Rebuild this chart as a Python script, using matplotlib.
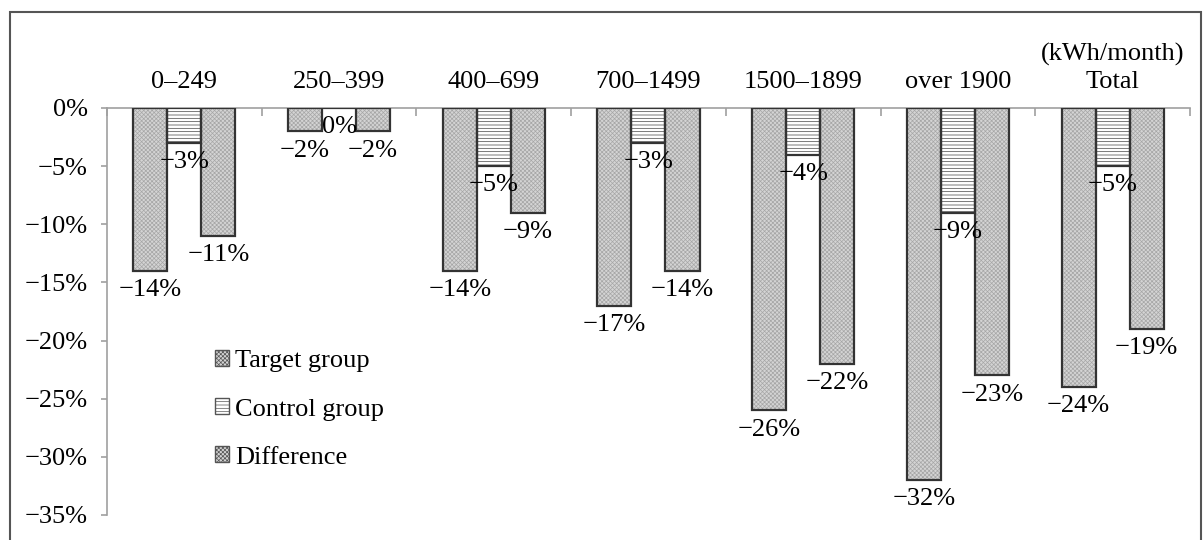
import numpy as np
import matplotlib
matplotlib.use('Agg')
import matplotlib.pyplot as plt
from matplotlib.patches import Patch, Rectangle

# chart values (percent change in consumption)
categories = ['0–249', '250–399', '400–699', '700–1499', '1500–1899', 'over 1900', '(kWh/month)\nTotal']
target = [-14, -2, -14, -17, -26, -32, -24]
control = [-3, 0, -5, -3, -4, -9, -5]
difference = [-11, -2, -9, -14, -22, -23, -19]
yticks = [0, -5, -10, -15, -20, -25, -30, -35]

plt.rcParams['font.family'] = ['Liberation Serif', 'DejaVu Serif']
plt.rcParams['font.size'] = 19
plt.rcParams['hatch.linewidth'] = 0.5

fig = plt.figure(figsize=(12.03, 5.4), dpi=100)
ax = fig.add_axes([0.0889, 0.0463, 0.9003, 0.7537])

# outer frame around the whole chart
fig.patches.append(Rectangle((10 / 1203, -0.1), 1191 / 1203, 1.1 - 12 / 540,
                             transform=fig.transFigure, fill=False,
                             edgecolor='#555555', lw=1.5))

x = np.arange(len(categories)) + 0.5
w = 0.22
series = [
    (target, -w, '#d4d4d4', '#a6a6a6', 'xxxxxxxx', 'Target group'),
    (control, 0, 'white', '#444444', '-----', 'Control group'),
    (difference, w, '#d4d4d4', '#a6a6a6', 'xxxxxxxx', 'Difference'),
]

handles = []
for vals, off, fc, hc, hatch, name in series:
    # fill with texture, then dark outline on top
    ax.bar(x + off, vals, w, color=fc, edgecolor=hc, hatch=hatch, linewidth=0, zorder=2)
    ax.bar(x + off, vals, w, fill=False, edgecolor='#333333', linewidth=1.6, zorder=3)
    for xi, v in zip(x + off, vals):
        ax.annotate(f'{v}%'.replace('-', '−'), (xi, v), xytext=(0, -6),
                    textcoords='offset points', ha='center', va='top', zorder=4)
    handles.append(Patch(facecolor=fc, edgecolor='#555555', hatch=hatch, label=name))

ax.set_xlim(0, len(categories))
ax.set_ylim(-35, 0)

# category axis along the top at 0%
ax.xaxis.tick_top()
ax.set_xticks(x)
ax.set_xticklabels(categories, linespacing=1.3)
ax.set_xticks(np.arange(len(categories) + 1), minor=True)
ax.tick_params(axis='x', which='major', length=0, pad=11)
ax.tick_params(axis='x', which='minor', direction='in', length=6, color='#a0a0a0', width=1.2)

ax.set_yticks(yticks)
ax.set_yticklabels([f'{t}%'.replace('-', '−') for t in yticks])
ax.tick_params(axis='y', direction='out', length=4, color='#a0a0a0', width=1.2, pad=10)

for s in ['right', 'bottom']:
    ax.spines[s].set_visible(False)
for s in ['left', 'top']:
    ax.spines[s].set_color('#a0a0a0')
    ax.spines[s].set_linewidth(1.2)

ax.legend(handles=handles, loc='upper left', bbox_to_anchor=(0.0997, 0.405),
          frameon=False, borderpad=0, borderaxespad=0, handlelength=0.55,
          handleheight=0.55, handletextpad=0.2, labelspacing=0.98)

fig.savefig('out.png', dpi=100)
